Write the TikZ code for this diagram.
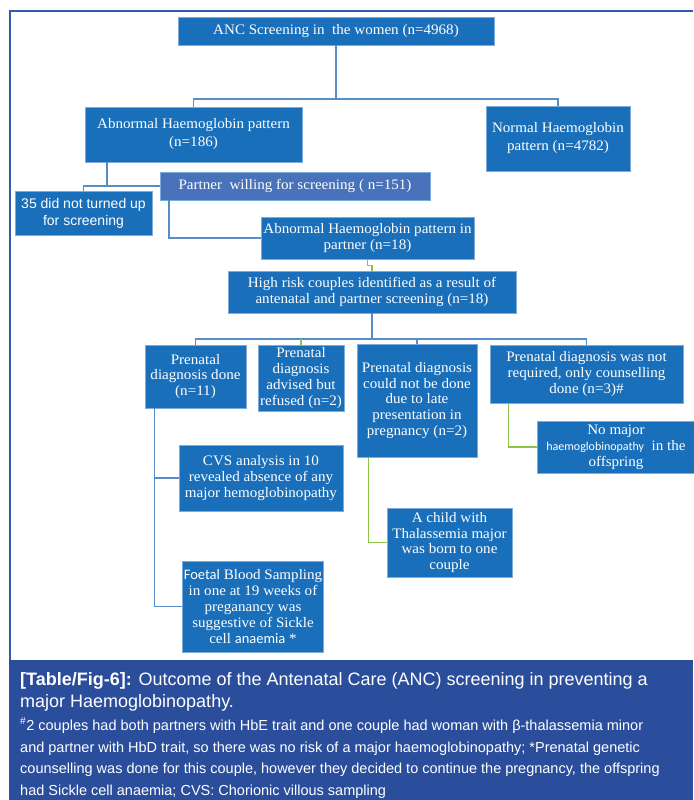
\documentclass[tikz,border=0pt]{standalone}
\usepackage{fontspec}
\setmainfont[FakeStretch=1.04]{Liberation Serif}
\newfontfamily\capfont{Liberation Sans}
\newfontfamily\calfont{Carlito}
\usepackage{tikz}
\usetikzlibrary{positioning,calc}
\definecolor{boxblue}{RGB}{25,111,185}
\definecolor{partnerblue}{RGB}{72,114,186}
\definecolor{boxline}{RGB}{125,172,220}
\definecolor{linkblue}{RGB}{88,142,200}
\definecolor{linkgreen}{RGB}{140,196,74}
\definecolor{framecol}{RGB}{48,92,172}
\definecolor{capblue}{RGB}{42,78,156}

\begin{document}
\begin{tikzpicture}[x=1pt,y=-1pt,
    main box/.style={draw=boxline,line width=0.6pt,fill=boxblue,text=white,align=center,
                     inner sep=1pt,font=\fontsize{14.5}{15.8}\selectfont},
    wide box/.style={main box,font=\fontsize{14.5}{18}\selectfont},
    blue line/.style={draw=linkblue,line width=1.2pt},
    green line/.style={draw=linkgreen,line width=1.2pt},
    cap line/.style={anchor=base west,inner sep=0pt,text=white}]
\useasboundingbox (0,0) rectangle (693,800);
%Frame and caption band
    \draw[framecol,line width=1.6pt] (10,660) -- (10,11) -- (693,11);
    \fill[capblue] (9,660) rectangle (693,800);
%Nodes
    \node[main box, minimum width=316, minimum height=28] (anc) at (336,31) {ANC Screening in~ the women (n=4968)};
    \node[wide box, minimum width=217, minimum height=55] (abn) at (193.5,134.5) {Abnormal Haemoglobin pattern\\(n=186)};
    \node[wide box, minimum width=144, minimum height=65] (nrm) at (558,138.5) {Normal Haemoglobin\\pattern (n=4782)};
    \node[main box, fill=partnerblue, minimum width=270, minimum height=28] (ptn) at (295,186) {Partner~ willing for screening ( n=151)};
    \node[main box, font=\capfont\fontsize{14}{17}\selectfont, minimum width=137, minimum height=44] (nst) at (83.5,213) {35 did not turned up\\for screening};
    \node[main box, minimum width=213, minimum height=42] (abp) at (367.5,238) {Abnormal Haemoglobin pattern in\\partner (n=18)};
    \node[main box, minimum width=288, minimum height=42] (hrc) at (372,292) {High risk couples identified as a result of\\antenatal and partner screening (n=18)};
    \node[main box, minimum width=101, minimum height=63] (pdd) at (195.5,376.5) {Prenatal\\diagnosis done\\(n=11)};
    \node[main box, minimum width=86, minimum height=66] (par) at (301,378) {Prenatal\\diagnosis\\advised but\\refused (n=2)};
    \node[main box, minimum width=120, minimum height=113] (pcn) at (417,400.5) {Prenatal diagnosis\\could not be done\\due to late\\presentation in\\pregnancy (n=2)};
    \node[main box, minimum width=193, minimum height=58] (pnr) at (586.5,374) {Prenatal diagnosis was not\\required, only counselling\\done (n=3)\#};
    \node[main box, minimum width=158, minimum height=52] (nmj) at (616,447) {No major\\{\calfont\fontsize{12}{15}\selectfont haemoglobinopathy}~ in the\\offspring};
    \node[main box, minimum width=164, minimum height=66] (cvs) at (261,478) {CVS analysis in 10\\revealed absence of any\\major hemoglobinopathy};
    \node[main box, minimum width=125, minimum height=69] (chd) at (449.5,542.5) {A child with\\Thalassemia major\\was born to one\\couple};
    \node[main box, minimum width=138, minimum height=91] (fbs) at (253,606.5) {{\calfont Foetal} Blood Sampling\\in one at 19 weeks of\\preganancy was\\suggestive of Sickle\\cell {\calfont anaemia} *};

%Connectors
    \coordinate (j1) at (336,99);
    \coordinate (j2) at (107,186);
    \coordinate (j3) at (169,238);
    \coordinate (j4) at (372,339);
    \coordinate (s5) at ([xshift=10pt]pdd.south west);
    \draw[blue line] (anc.south) -- (j1);
    \draw[blue line] (abn.north) |- (j1) -| (nrm.north);
    \draw[blue line] (j2 |- abn.south) -- (j2);
    \draw[blue line] (nst.north) |- (ptn.west);
    \draw[blue line] (j3 |- ptn.south) -- (j3) -- (abp.west);
    \draw[green line] (abp.south) -- ++(0,6) -| (hrc.north);
    \draw[blue line] (hrc.south) -- (j4);
    \draw[blue line] (pdd.north) |- (j4) -| (pnr.north);
    \draw[blue line] (pcn.north) -- (pcn.north |- j4);
    \draw[green line] (par.north) -- (par.north |- j4);
    \draw[blue line] (s5) |- (cvs.west);
    \draw[blue line] (s5) |- (fbs.west);
    \draw[green line] ([xshift=12pt]pcn.south west) |- (chd.west);
    \draw[green line] ([xshift=19pt]pnr.south west) |- (nmj.west);

%Caption
    \node[cap line, font=\capfont\fontsize{18}{22}\selectfont] (cap1) at (20,685) {\textbf{[Table/Fig-6]:} Outcome of the Antenatal Care (ANC) screening in preventing a};
    \node[cap line, font=\capfont\fontsize{18}{22}\selectfont] (cap2) at (20,707) {major Haemoglobinopathy.};
    \node[cap line, font=\capfont\fontsize{14.5}{18}\selectfont] (cap3) at (20,730) {\textsuperscript{\#}2 couples had both partners with HbE trait and one couple had woman with β-thalassemia minor};
    \node[cap line, font=\capfont\fontsize{14.5}{18}\selectfont] (cap4) at (20,752) {and partner with HbD trait, so there was no risk of a major haemoglobinopathy; *Prenatal genetic};
    \node[cap line, font=\capfont\fontsize{14.5}{18}\selectfont] (cap5) at (20,773) {counselling was done for this couple, however they decided to continue the pregnancy, the offspring};
    \node[cap line, font=\capfont\fontsize{14.5}{18}\selectfont] (cap6) at (20,795) {had Sickle cell anaemia; CVS: Chorionic villous sampling};
\end{tikzpicture}
\end{document}
